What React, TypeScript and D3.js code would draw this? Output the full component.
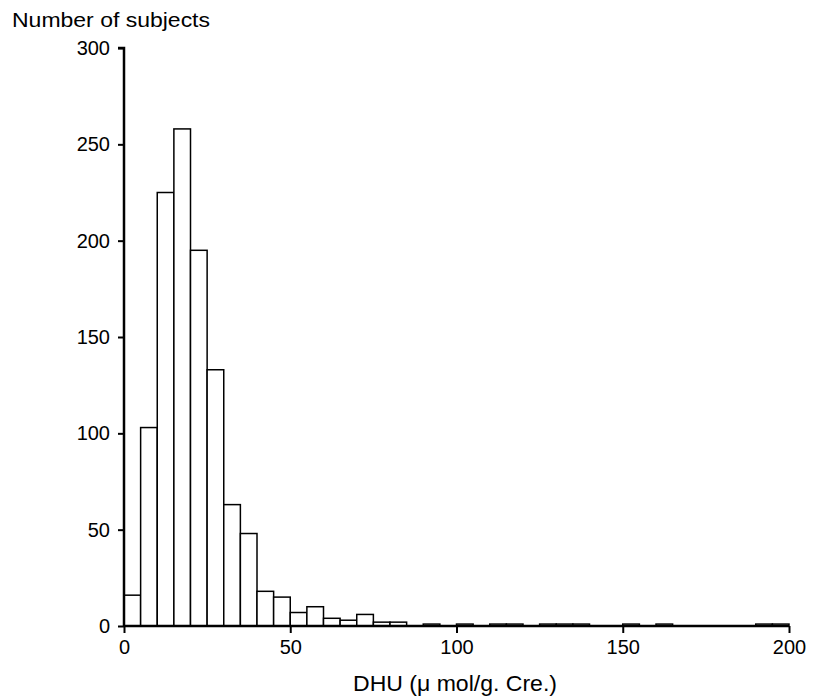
import * as d3 from 'd3';
import React, { useEffect, useRef } from 'react';

// histogram bins of 5 units, 0..200
const binStarts = d3.range(0, 200, 5);
const counts = [
    16, 103, 225, 258, 195, 133, 63, 48, 18, 15,
    7, 10, 4, 3, 6, 2, 2, 0, 1, 0,
    1, 0, 1, 1, 0, 1, 1, 1, 0, 0,
    1, 0, 1, 0, 0, 0, 0, 0, 1, 1
];
const yTicks = [0, 50, 100, 150, 200, 250, 300];
const xTicks = [0, 50, 100, 150, 200];

const W = 815;
const H = 697;

export default function App() {
    const ref = useRef<SVGSVGElement>(null);

    useEffect(() => {
        const svg = d3.select(ref.current);
        svg.selectAll('*').remove();

        const x = d3.scaleLinear().domain([0, 200]).range([124, 789]);
        const y = d3.scaleLinear().domain([0, 300]).range([626, 48]);
        const font = 'Liberation Sans, Arial, sans-serif';

        // bars
        svg.append('g')
            .selectAll('rect')
            .data(binStarts.map((s, i) => ({ s, c: counts[i] })).filter(d => d.c > 0))
            .enter()
            .append('rect')
            .attr('x', d => x(d.s))
            .attr('width', d => x(d.s + 5) - x(d.s))
            .attr('y', d => y(d.c))
            .attr('height', d => y(0) - y(d.c))
            .attr('fill', '#fff')
            .attr('stroke', '#000')
            .attr('stroke-width', 1.5);

        // y axis
        const ya = svg.append('g')
            .attr('transform', 'translate(' + x(0) + ',0)')
            .call(d3.axisLeft(y).tickValues(yTicks).tickSize(6).tickPadding(8));
        ya.select('.domain').attr('stroke-width', 2.5).attr('d', 'M-6,' + y(300) + 'H0V' + y(0));
        ya.selectAll('line').attr('stroke-width', 2);
        ya.selectAll('text').attr('font-size', 20).attr('font-family', font).attr('fill', '#000');

        // x axis
        const xa = svg.append('g')
            .attr('transform', 'translate(0,' + y(0) + ')')
            .call(d3.axisBottom(x).tickValues(xTicks).tickSize(7).tickPadding(7));
        xa.select('.domain').attr('stroke-width', 2.5).attr('d', 'M' + x(0) + ',0H' + x(200));
        xa.selectAll('line').attr('stroke-width', 2);
        xa.selectAll('text').attr('font-size', 20).attr('font-family', font).attr('fill', '#000');

        svg.append('text')
            .attr('x', 12)
            .attr('y', 27)
            .attr('font-size', 20)
            .attr('font-family', font)
            .attr('textLength', 198)
            .attr('lengthAdjust', 'spacingAndGlyphs')
            .text('Number of subjects');

        svg.append('text')
            .attr('x', 353)
            .attr('y', 691)
            .attr('font-size', 22)
            .attr('font-family', font)
            .attr('textLength', 204)
            .attr('lengthAdjust', 'spacingAndGlyphs')
            .text('DHU (μ mol/g. Cre.)');
    }, []);

    return (
        <div style={{ position: 'absolute', left: 0, top: 0 }}>
            <svg ref={ref} width={W} height={H} style={{ display: 'block', background: '#fff' }} />
        </div>
    );
}
